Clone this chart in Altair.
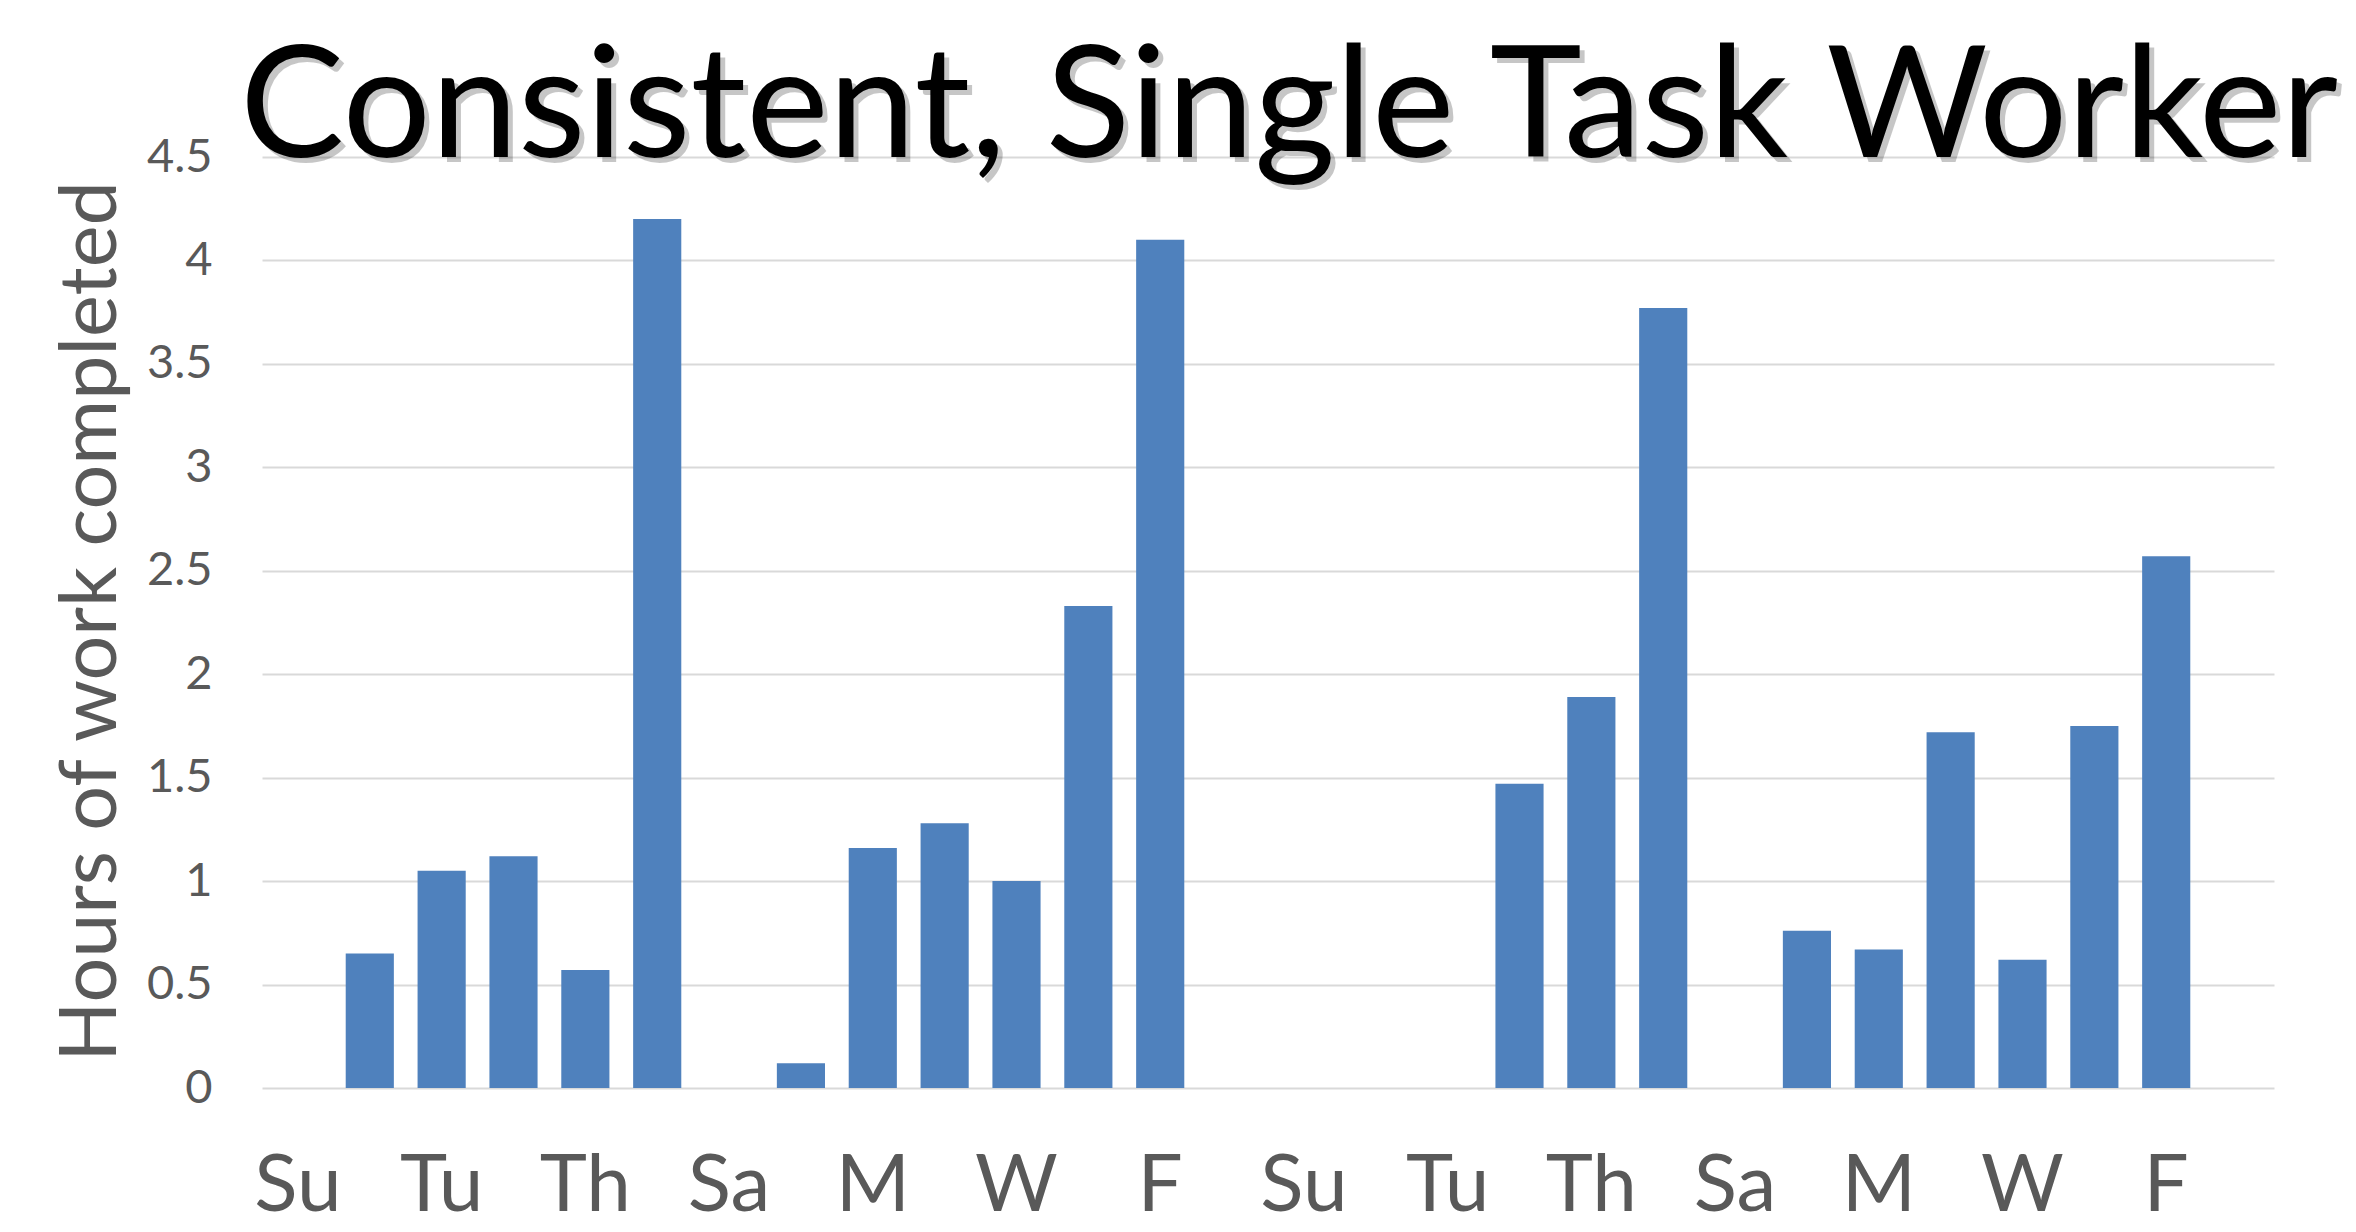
import altair as alt
import pandas as pd

# ---- data ----
day_names = ["Su", "M", "Tu", "W", "Th", "F", "Sa"]
weeks = [1, 2, 3, 4]
hours_week1 = [0, 0.65, 1.05, 1.12, 0.57, 4.20, 0]
hours_week2 = [0.12, 1.16, 1.28, 1.00, 2.33, 4.10, 0]
hours_week3 = [0, 0, 0, 1.47, 1.89, 3.77, 0]
hours_week4 = [0.76, 0.67, 1.72, 0.62, 1.75, 2.57, 0]
y_ticks = [0, 0.5, 1, 1.5, 2, 2.5, 3, 3.5, 4, 4.5]
title_text = "Consistent, Single Task Worker"
y_title = "Hours of work completed"

all_hours = [hours_week1, hours_week2, hours_week3, hours_week4]
rows = []
for w, hrs in zip(weeks, all_hours):
    for d, h in zip(day_names, hrs):
        rows.append({"slot": f"{w}-{d}", "day": d, "hours": h})
df = pd.DataFrame(rows)
slot_order = list(df["slot"])
shown_slots = slot_order[::2]
title_df = pd.DataFrame({"t": [title_text]})

FONT = "Lato"
GRAY = "#595959"
PLOT_W = 2012
PLOT_H = 931
TITLE_SIZE = 156

bars = (
    alt.Chart(df)
    .mark_bar(color="#4F81BD")
    .encode(
        x=alt.X(
            "slot:N",
            sort=slot_order,
            scale=alt.Scale(paddingInner=0.33, paddingOuter=0.165),
            axis=alt.Axis(
                title=None,
                values=shown_slots,
                labelExpr="split(datum.label, '-')[1]",
                labelAngle=0,
                labelFont=FONT,
                labelFontSize=80,
                labelColor=GRAY,
                labelBaseline="alphabetic",
                labelPadding=122,
                ticks=False,
                tickSize=0,
                domain=False,
                grid=False,
            ),
        ),
        y=alt.Y(
            "hours:Q",
            scale=alt.Scale(domain=[0, 4.5], nice=False),
            axis=alt.Axis(
                title=y_title,
                values=y_ticks,
                format=".1~f",
                labelFont=FONT,
                labelFontSize=47,
                labelColor=GRAY,
                labelPadding=50,
                ticks=False,
                tickSize=0,
                domain=False,
                grid=True,
                gridColor="#D9D9D9",
                gridWidth=2,
                titleFont=FONT,
                titleFontSize=79,
                titleFontWeight="normal",
                titleColor=GRAY,
                titleAngle=270,
                titleBaseline="alphabetic",
                titleAlign="center",
                titleX=-147,
                titleY=464,
            ),
        ),
    )
)

title_shadow = (
    alt.Chart(title_df)
    .mark_text(
        font=FONT,
        fontSize=TITLE_SIZE,
        color="#000000",
        opacity=0.22,
        align="center",
        baseline="alphabetic",
        dx=5,
        dy=5,
    )
    .encode(text="t:N", x=alt.value(PLOT_W / 2 + 21), y=alt.value(0))
)

title_mark = (
    alt.Chart(title_df)
    .mark_text(
        font=FONT,
        fontSize=TITLE_SIZE,
        color="#000000",
        align="center",
        baseline="alphabetic",
    )
    .encode(text="t:N", x=alt.value(PLOT_W / 2 + 21), y=alt.value(0))
)

chart = (
    alt.layer(bars, title_shadow, title_mark)
    .properties(
        width=PLOT_W,
        height=PLOT_H,
        autosize=alt.AutoSizeParams(type="none"),
        padding={"left": 254, "top": 149, "right": 74, "bottom": 136},
    )
    .configure_view(stroke=None)
)

chart.save("out.html", embed_options={"renderer": "svg", "actions": False})
